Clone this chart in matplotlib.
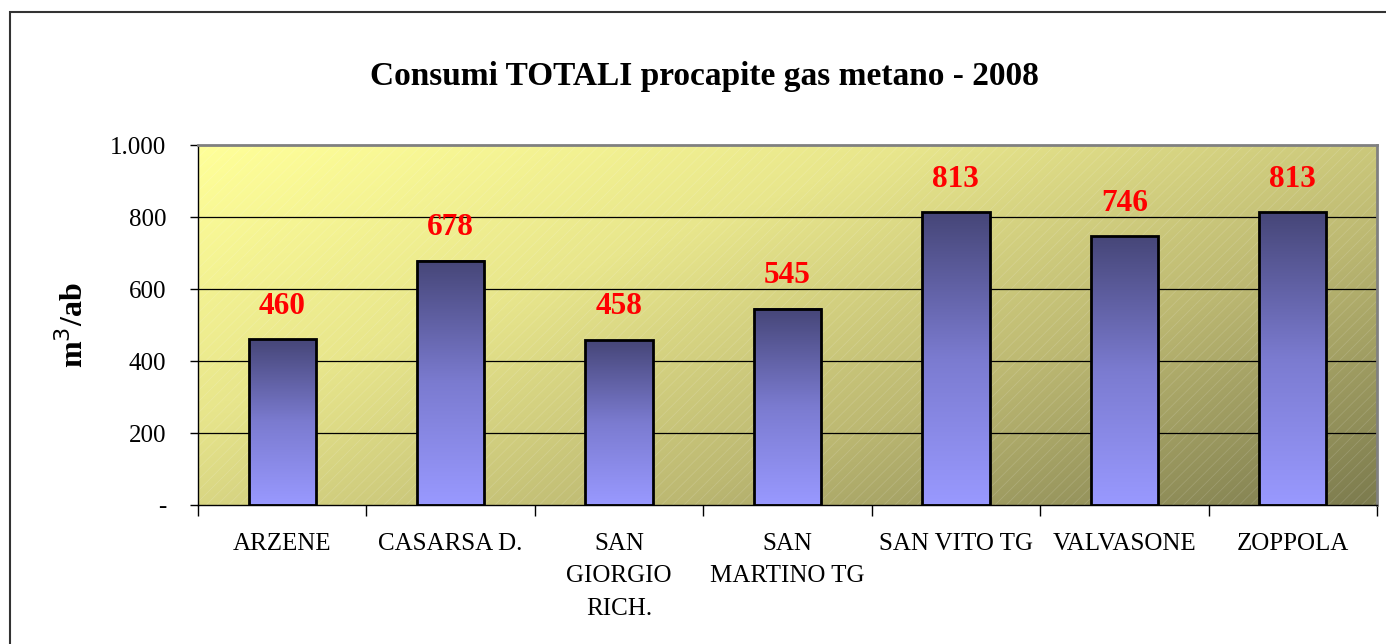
import matplotlib.pyplot as plt
import numpy as np
from matplotlib.colors import LinearSegmentedColormap
from matplotlib.patches import Rectangle

# data
comuni = ["ARZENE", "CASARSA D.", "SAN\nGIORGIO\nRICH.", "SAN\nMARTINO TG",
          "SAN VITO TG", "VALVASONE", "ZOPPOLA"]
consumi = [460, 678, 458, 545, 813, 746, 813]
yticks = [0, 200, 400, 600, 800, 1000]
ytick_labels = ["-", "200", "400", "600", "800", "1.000"]

plt.rcParams['font.family'] = ['Liberation Serif', 'DejaVu Serif']
plt.rcParams['hatch.linewidth'] = 0.6

fig = plt.figure(figsize=(13.86, 6.44), dpi=100)
ax = fig.add_axes([198 / 1386, 1 - 505 / 644, (1377 - 198) / 1386, 360 / 644])

# outer frame
fig.patches.append(Rectangle((10 / 1386, -0.05), 1.0, 1 - 12 / 644 + 0.05,
                             transform=fig.transFigure, fill=False,
                             edgecolor='#333333', lw=1.5))

# diagonal gradient background
gx, gy = np.meshgrid(np.linspace(0, 1, 300), np.linspace(0, 1, 200))
t = np.clip(0.55 * gx + 0.45 * gy, 0, 1)
bg_cmap = LinearSegmentedColormap.from_list(
    'bg', ['#ffff99', '#e8e68c', '#bcb872', '#7c7b4e'])
ax.imshow(t, cmap=bg_cmap, extent=[0, 1, 0, 1], transform=ax.transAxes,
          aspect='auto', zorder=0, origin='upper')
hatch = Rectangle((0, 0), 1, 1, transform=ax.transAxes, fill=False,
                  hatch='///', edgecolor=(1, 1, 1, 0.14), lw=0, zorder=0.5)
ax.add_patch(hatch)

# bars with vertical gradient
x = np.arange(len(comuni))
w = 0.4
bar_cmap = LinearSegmentedColormap.from_list('bar', ['#9999ff', '#7b7bd0', '#464678'])
grad = np.linspace(0, 1, 256).reshape(-1, 1)
for xi, v in zip(x, consumi):
    ax.imshow(grad, cmap=bar_cmap, extent=[xi - w / 2, xi + w / 2, 0, v],
              origin='lower', aspect='auto', zorder=2)
ax.bar(x, consumi, width=w, facecolor='none', edgecolor='black', lw=2, zorder=3)

for xi, v in zip(x, consumi):
    ax.text(xi, v + 92, str(v), ha='center', va='center', color='red',
            fontsize=22.5, fontweight='bold', zorder=4)

ax.set_xlim(-0.5, len(comuni) - 0.5)
ax.set_ylim(0, 1000)

# grid
for yv in yticks[1:-1]:
    ax.axhline(yv, color='black', lw=0.9, zorder=1)

ax.set_yticks(yticks)
ax.set_yticklabels(ytick_labels, fontsize=18)
ax.tick_params(axis='y', length=6, width=1, pad=17, direction='out')

ax.set_xticks(np.arange(-0.5, len(comuni)), labels=[""] * (len(comuni) + 1))
ax.set_xticks(x, labels=comuni, minor=True)
ax.tick_params(axis='x', which='major', length=8, width=1, direction='out')
ax.tick_params(axis='x', which='minor', length=0, pad=20, labelsize=18)
for lab in ax.get_xticklabels(minor=True):
    lab.set_linespacing(1.62)
    lab.set_verticalalignment('top')

for s in ['top', 'right']:
    ax.spines[s].set_color('#808080')
    ax.spines[s].set_linewidth(2)
for s in ['left', 'bottom']:
    ax.spines[s].set_color('black')
    ax.spines[s].set_linewidth(1)

ax.set_ylabel("m$^3$/ab", fontsize=23, fontweight='bold', labelpad=14)

fig.text(0.508, 1 - 77 / 644, "Consumi TOTALI procapite gas metano - 2008",
         ha='center', va='center', fontsize=24, fontweight='bold')

fig.savefig('out.png', dpi=100)
